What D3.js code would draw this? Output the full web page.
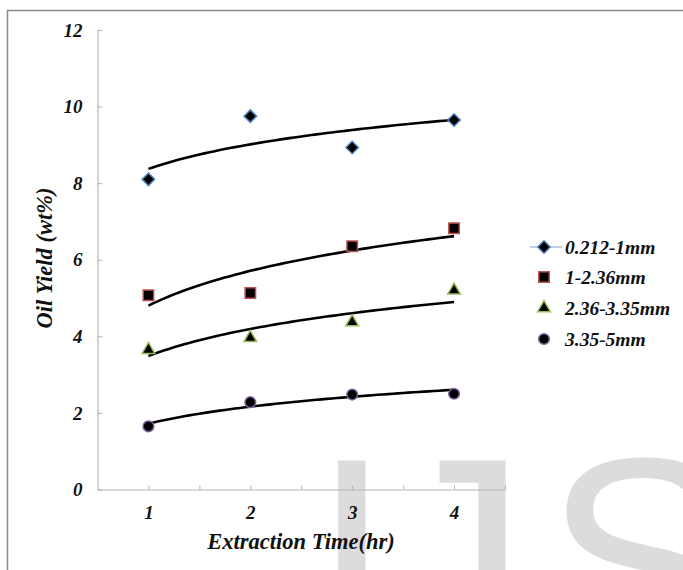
<!DOCTYPE html>
<html>
<head>
<meta charset="utf-8">
<script src="https://cdn.jsdelivr.net/npm/d3@7/dist/d3.min.js"></script>
<style>
  body { margin: 0; background: #fff; }
</style>
</head>
<body>
<svg id="chart" width="683" height="570"></svg>
<script>
// Data
var times = [1, 2, 3, 4];
var yield0212 = [8.1, 9.75, 8.93, 9.65];
var yield1236 = [5.07, 5.13, 6.35, 6.82];
var yield2335 = [3.65, 3.96, 4.37, 5.2];
var yield3355 = [1.65, 2.28, 2.48, 2.5];
var seriesNames = ["0.212-1mm", "1-2.36mm", "2.36-3.35mm", "3.35-5mm"];
var yTicks = [0, 2, 4, 6, 8, 10, 12];
var xTicks = [1, 1.5, 2, 2.5, 3, 3.5, 4, 4.5];

var seriesValues = [yield0212, yield1236, yield2335, yield3355];
var strokes = ["#4F81BD", "#C0504D", "#9BBB59", "#8064A2"];
var shapes = ["diamond", "square", "triangle", "circle"];
var serif = "Liberation Serif";

var svg = d3.select("svg#chart");

// watermark behind everything, letters placed by their ink edges
var ctx = document.createElement("canvas").getContext("2d");
ctx.font = "293px 'Liberation Sans'";
function inkLeft(ch, edge) { return edge + ctx.measureText(ch).actualBoundingBoxLeft; }
function inkRight(ch, edge) { return edge - ctx.measureText(ch).actualBoundingBoxRight; }
var wm = [["I", inkLeft("I", 334)], ["J", inkRight("J", 509)], ["S", inkLeft("S", 553)]];
wm.forEach(function(w) {
    svg.append("text").attr("x", w[1]).attr("y", 662)
        .style("font-family", "Liberation Sans").style("font-size", "293px")
        .attr("fill", "#dcdcdc").text(w[0]);
});

// outer frame
svg.append("rect").attr("x", 7.5).attr("y", 10.5).attr("width", 720).attr("height", 620)
    .attr("fill", "none").attr("stroke", "#8a8a8a").attr("stroke-width", 1.5);

var x = d3.scaleLinear().domain([0.5, 4.5]).range([97.5, 505]);
var y = d3.scaleLinear().domain([0, 12]).range([489.5, 30]);

function serifText(sel, size) {
    sel.style("font-family", serif).style("font-weight", "bold").style("font-style", "italic")
        .style("font-size", size + "px").attr("fill", "#111");
}

// axes
var xAxis = d3.axisBottom(x).tickValues(xTicks).tickSizeInner(-4).tickSizeOuter(0).tickPadding(16)
    .tickFormat(function(d) { return Number.isInteger(d) ? d : ""; });
var yAxis = d3.axisLeft(y).tickValues(yTicks).tickSizeInner(-5).tickSizeOuter(0).tickPadding(15);

var gx = svg.append("g").attr("transform", "translate(0," + y(0) + ")").call(xAxis);
var gy = svg.append("g").attr("transform", "translate(" + x(0.5) + ",0)").call(yAxis);
[gx, gy].forEach(function(g) {
    g.select(".domain").attr("stroke", "#b5b5b5").attr("stroke-width", 1.2);
    g.selectAll(".tick line").attr("stroke", "#b5b5b5");
    g.selectAll("text").call(serifText, 19);
});

// axis titles
svg.append("text").attr("x", 301).attr("y", 549).attr("text-anchor", "middle")
    .call(serifText, 22.5).text("Extraction Time(hr)");
svg.append("text").attr("transform", "translate(52,258) rotate(-90)").attr("text-anchor", "middle")
    .call(serifText, 22.5).text("Oil Yield (wt%)");

// logarithmic trendline, least squares fit of y = a + b ln(x)
function logFit(xs, ys) {
    var lx = xs.map(Math.log);
    var mx = d3.mean(lx), my = d3.mean(ys);
    var sxy = d3.sum(lx, function(v, i) { return (v - mx) * (ys[i] - my); });
    var sxx = d3.sum(lx, function(v) { return (v - mx) * (v - mx); });
    var b = sxy / sxx;
    return { a: my - b * mx, b: b };
}

function symbolPath(shape) {
    if (shape == "diamond") return d3.symbol().type(d3.symbolSquare).size(78)();
    if (shape == "square") return d3.symbol().type(d3.symbolSquare).size(110)();
    if (shape == "triangle") return d3.symbol().type(d3.symbolTriangle).size(70)();
    return d3.symbol().type(d3.symbolCircle).size(90)();
}

var curveX = d3.range(0, 61).map(function(i) { return 1 + i * 3 / 60; });

seriesValues.forEach(function(vals, s) {
    var fit = logFit(times, vals);
    svg.append("path").datum(curveX)
        .attr("fill", "none").attr("stroke", "#000").attr("stroke-width", 2.6)
        .attr("d", d3.line().x(function(d) { return x(d); }).y(function(d) { return y(fit.a + fit.b * Math.log(d)); }));

    svg.append("g").selectAll("path").data(times).enter().append("path")
        .attr("d", symbolPath(shapes[s]))
        .attr("transform", function(d, i) {
            return "translate(" + x(d) + "," + y(vals[i]) + ")" + (shapes[s] == "diamond" ? " rotate(45)" : "");
        })
        .attr("fill", "#000").attr("stroke", strokes[s]).attr("stroke-width", 1.5);
});

// legend
var legendY = [247, 277, 308, 339];
var legend = svg.append("g");
legend.append("line").attr("x1", 530).attr("x2", 562).attr("y1", legendY[0]).attr("y2", legendY[0])
    .attr("stroke", "#a9c1e3").attr("stroke-width", 1.5);
seriesNames.forEach(function(name, s) {
    legend.append("path").attr("d", symbolPath(shapes[s]))
        .attr("transform", "translate(544," + legendY[s] + ")" + (shapes[s] == "diamond" ? " rotate(45)" : ""))
        .attr("fill", "#000").attr("stroke", strokes[s]).attr("stroke-width", 1.5);
    legend.append("text").attr("x", 565).attr("y", legendY[s]).attr("dy", "0.35em")
        .call(serifText, 19.5).text(name);
});
</script>
</body>
</html>
